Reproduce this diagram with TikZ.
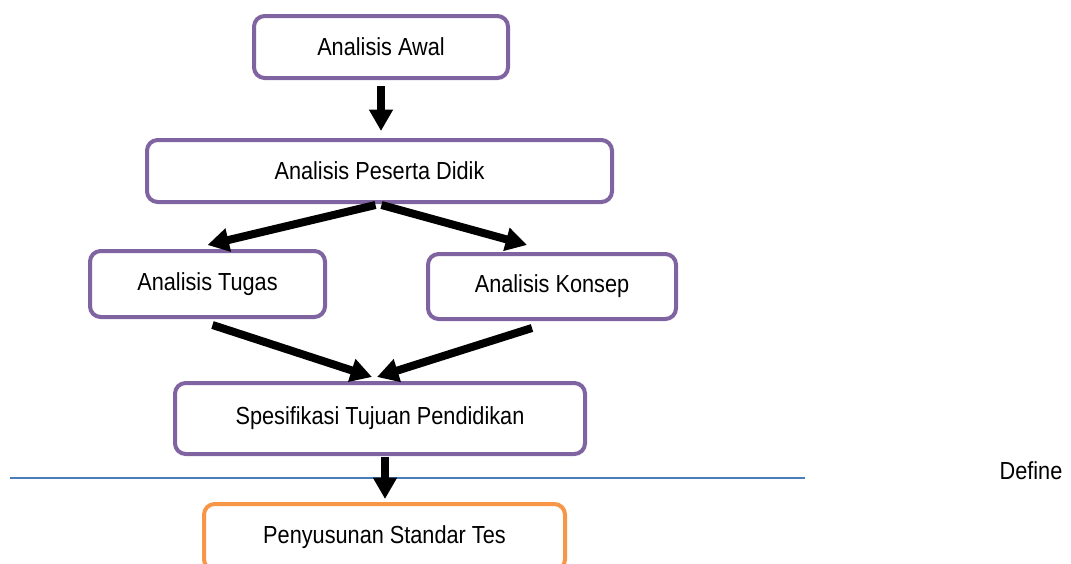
\documentclass[tikz,border=0pt]{standalone}
\usepackage{fontspec}
\setmainfont{Liberation Sans}[FakeStretch=0.88]
\usepackage{tikz}
\usetikzlibrary{arrows.meta}
\usetikzlibrary{calc}
\usetikzlibrary{positioning}
\definecolor{boxpurple}{HTML}{8064A2}
\definecolor{boxorange}{HTML}{F79646}
\definecolor{lineblue}{HTML}{4A7EBB}
\tikzstyle{proc} = [rectangle, rounded corners=8pt, draw=boxpurple, line width=3pt, fill=white, text centered, font=\fontsize{18.5}{22}\selectfont, minimum height=46.5pt]
\tikzstyle{procstd} = [proc, draw=boxorange]
\tikzstyle{arrow} = [line width=6pt, -{Triangle[length=16pt,width=17pt]}]

\begin{document}
\begin{tikzpicture}[x=0.75pt, y=-0.75pt]

  \useasboundingbox (0,0) rectangle (1071,564);

  % boxes
  \node[proc, minimum width=190.5pt] (awal) at (381,47) {Analisis Awal};
  \node[proc, minimum width=348.75pt] (ped) at (379.5,171) {Analisis Peserta Didik};
  \node[proc, minimum width=176.25pt, minimum height=49.5pt] (tug) at (207.5,284) {Analisis Tugas};
  \node[proc, minimum width=186pt, minimum height=48.75pt] (kon) at (552,286.5) {Analisis Konsep};
  \node[proc, minimum width=307.5pt, minimum height=53.25pt] (spes) at (380,418.5) {Spesifikasi Tujuan Pendidikan};
  \node[procstd, minimum width=270.75pt, minimum height=49.5pt] (std) at (384.5,537) {Penyusunan Standar Tes};

  % phase line
  \draw[lineblue, line width=1.1pt] (10,478) -- (805,478);
  \node[font=\fontsize{18.5}{22}\selectfont] (define) at (1031,471) {Define};

  % arrows
  \draw[arrow] ($(awal.south)+(0,6)$) -- ($(awal.south |- ped.north)+(0,-7)$);
  \draw[arrow] ($(ped.south)+(-4,1)$) -- ($(tug.north)+(0,-4)$);
  \draw[arrow] ($(ped.south)+(2,1)$) -- ($(kon.north)+(-25,-7)$);
  \draw[arrow] ($(tug.south)+(5,6)$) -- ($(spes.north)+(-8,-4)$);
  \draw[arrow] ($(kon.south)+(-20,7)$) -- ($(spes.north)+(-3,-4)$);
  \draw[arrow] ($(spes.south)+(5,1)$) -- ($(std.north)+(0.5,-3)$);

\end{tikzpicture}
\end{document}
